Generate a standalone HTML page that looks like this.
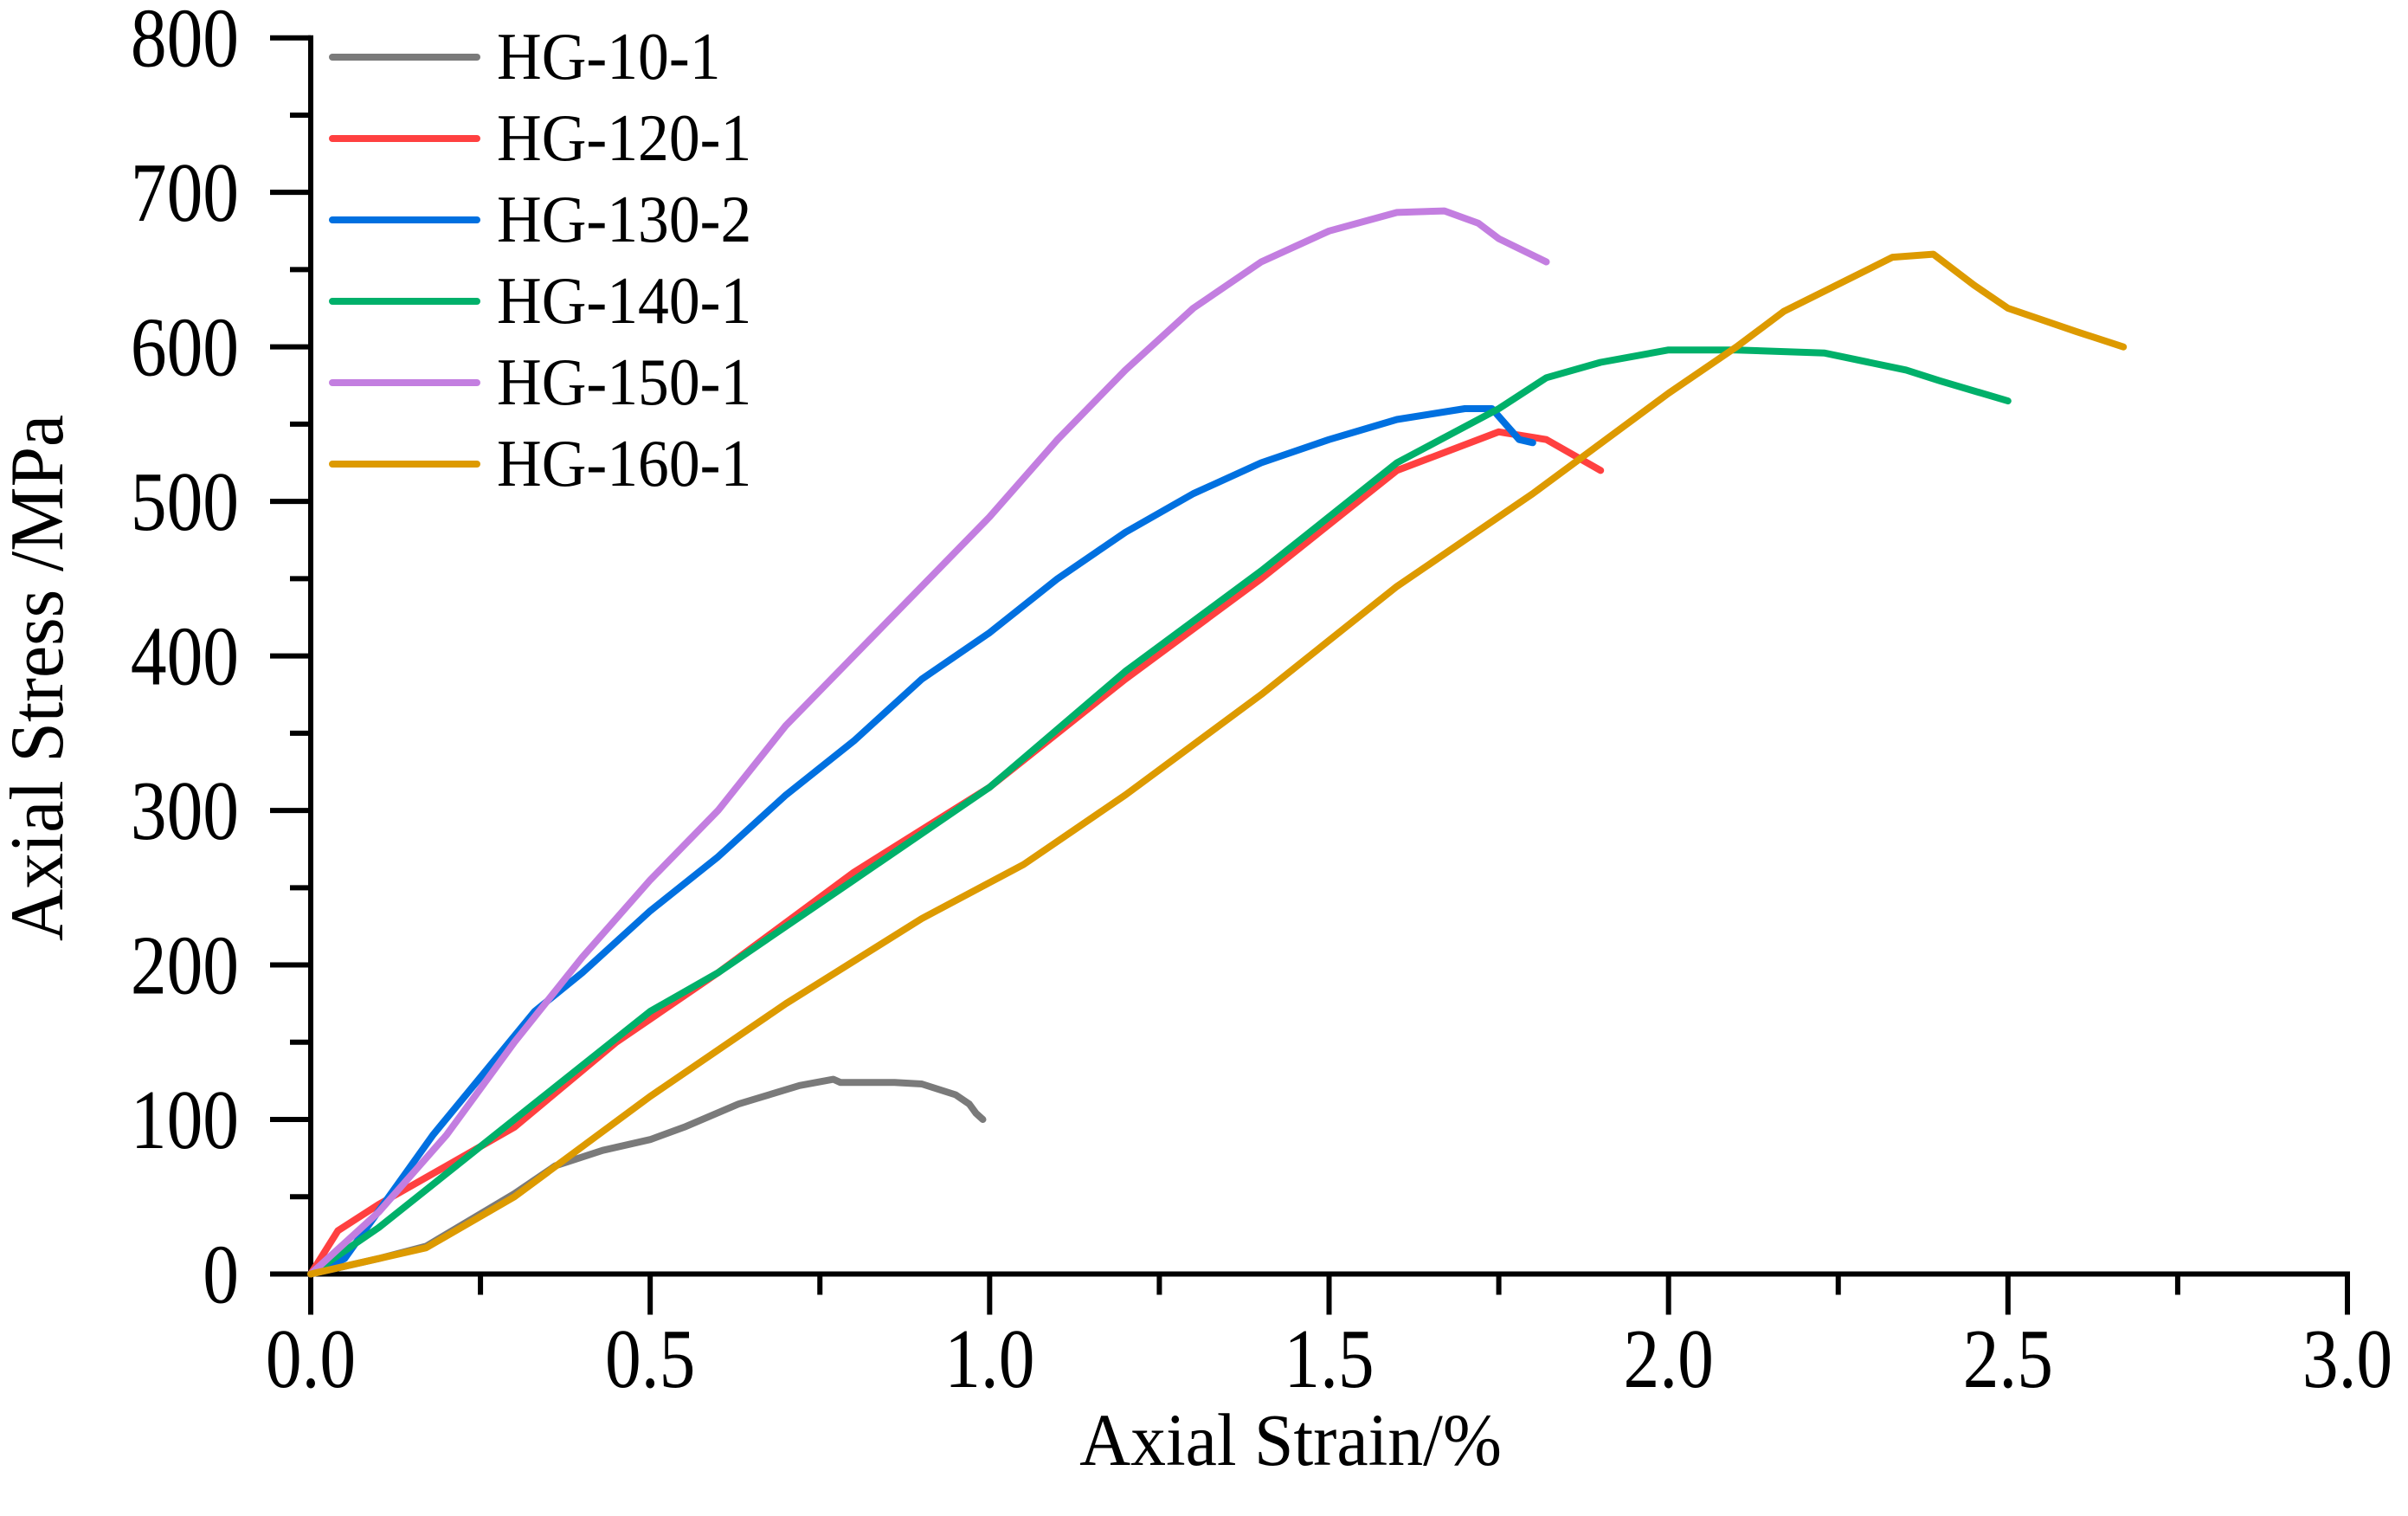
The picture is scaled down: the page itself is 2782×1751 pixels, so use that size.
<!DOCTYPE html>
<html><head><meta charset="utf-8"><style>
html,body{margin:0;padding:0;background:#fff;}
svg{display:block;font-family:"Liberation Serif",serif;}
</style></head><body>
<svg id="chart" width="2782" height="1751" viewBox="0 0 2782 1751" xmlns="http://www.w3.org/2000/svg">
<g id="axes"></g>
<g id="series"></g>
<g id="legend"></g>
<text transform="translate(1491,1692) scale(0.95,1)" font-size="86" text-anchor="middle">Axial Strain/%</text>
<text transform="translate(72,783) rotate(-90) scale(0.95,1)" font-size="88" text-anchor="middle">Axial Stress /MPa</text>
</svg>
<script>
const xTicks = [0, 0.5, 1.0, 1.5, 2.0, 2.5, 3.0];
const xTickLabels = ["0.0","0.5","1.0","1.5","2.0","2.5","3.0"];
const yTicks = [0,100,200,300,400,500,600,700,800];
const yTickLabels = ["0","100","200","300","400","500","600","700","800"];
const seriesNames = ["HG-10-1","HG-120-1","HG-130-2","HG-140-1","HG-150-1","HG-160-1"];
const seriesColors = ["#7a7a7a","#ff4040","#0070e0","#00b06a","#c37ee0","#dd9a00"];
const hg10x = [0,0.1,0.17,0.3,0.36,0.43,0.5,0.55,0.63,0.72,0.77,0.78,0.86,0.9,0.95,0.97,0.98,0.99];
const hg10y = [0,10,18,52,70,80,87,95,110,122,126,124,124,123,116,110,104,100];
const hg120x = [0,0.04,0.1,0.2,0.3,0.45,0.6,0.8,1.0,1.2,1.4,1.6,1.75,1.82,1.9];
const hg120y = [0,28,45,70,95,150,195,260,315,385,450,520,545,540,520];
const hg130x = [0,0.05,0.18,0.33,0.4,0.5,0.6,0.7,0.8,0.9,1.0,1.1,1.2,1.3,1.4,1.5,1.6,1.7,1.74,1.76,1.78,1.8];
const hg130y = [0,10,90,170,195,235,270,310,345,385,415,450,480,505,525,540,553,560,560,550,540,538];
const hg140x = [0,0.1,0.3,0.5,0.6,0.8,1.0,1.2,1.4,1.6,1.75,1.82,1.9,2.0,2.1,2.23,2.35,2.4,2.5];
const hg140y = [0,30,100,170,195,255,315,390,455,525,560,580,590,598,598,596,585,578,565];
const hg150x = [0,0.1,0.2,0.3,0.4,0.5,0.6,0.7,0.8,0.9,1.0,1.1,1.2,1.3,1.4,1.5,1.6,1.67,1.72,1.75,1.82];
const hg150y = [0,40,90,150,205,255,300,355,400,445,490,540,585,625,655,675,687,688,680,670,655];
const hg160x = [0,0.1,0.17,0.3,0.5,0.7,0.9,1.05,1.2,1.4,1.6,1.8,2.0,2.1,2.17,2.33,2.39,2.45,2.5,2.6,2.67];
const hg160y = [0,10,17,50,115,175,230,265,310,375,445,505,570,600,623,658,660,640,625,610,600];

const NS = "http://www.w3.org/2000/svg";
const X0 = 359, X1 = 2712, Y0 = 1471.5, Y1 = 43.7;
function sx(v){ return X0 + (v - 0) / 3 * (X1 - X0); }
function sy(v){ return Y0 - v / 800 * (Y0 - Y1); }
function mk(tag, attrs, parent){ const e = document.createElementNS(NS, tag); for (const k in attrs) e.setAttribute(k, attrs[k]); parent.appendChild(e); return e; }

const axes = document.getElementById('axes');
let el = mk('line', {x1:X0, y1:Y1-3, x2:X0, y2:Y0+47, stroke:'#000','stroke-width':6}, axes);


el = mk('line', {x1:X0-47, y1:Y0, x2:X1+3, y2:Y0, stroke:'#000','stroke-width':6}, axes);


xTicks.forEach((v,i)=>{
  const t = mk('line', {x1:sx(v), y1:Y0, x2:sx(v), y2:Y0+47, stroke:'#000','stroke-width':6}, axes);
  
  
  if (i < xTicks.length-1) {
    const m = mk('line', {x1:sx(v+0.25), y1:Y0, x2:sx(v+0.25), y2:Y0+24, stroke:'#000','stroke-width':6}, axes);
    
    
  }
  const lb = mk('text', {transform:'translate(' + sx(v) + ',1602) scale(0.86,1)', 'font-size':97, 'text-anchor':'middle'}, axes);
  lb.textContent = xTickLabels[i];
  
  
});
yTicks.forEach((v,i)=>{
  const t = mk('line', {x1:X0-47, y1:sy(v), x2:X0, y2:sy(v), stroke:'#000','stroke-width':6}, axes);
  
  
  if (i < yTicks.length-1) {
    const m = mk('line', {x1:X0-24, y1:sy(v+50), x2:X0, y2:sy(v+50), stroke:'#000','stroke-width':6}, axes);
    
    
  }
  const lb = mk('text', {transform:'translate(276,' + (sy(v)+33) + ') scale(0.86,1)', 'font-size':97, 'text-anchor':'end'}, axes);
  lb.textContent = yTickLabels[i];
  
  
});

const xs = [hg10x,hg120x,hg130x,hg140x,hg150x,hg160x];
const ys = [hg10y,hg120y,hg130y,hg140y,hg150y,hg160y];
const sg = document.getElementById('series');
const lg = document.getElementById('legend');
xs.forEach((xa,i)=>{
  const pts = xa.map((x,j)=>sx(x).toFixed(1)+','+sy(ys[i][j]).toFixed(1)).join(' ');
  const p = mk('polyline', {points:pts, fill:'none', stroke:seriesColors[i], 'stroke-width':8, 'stroke-linejoin':'round', 'stroke-linecap':'round'}, sg);
  
  
  const ly = 66 + i*94;
  const ll = mk('line', {x1:384, y1:ly, x2:551, y2:ly, stroke:seriesColors[i], 'stroke-width':8, 'stroke-linecap':'round'}, lg);
  
  
  const lt = mk('text', {transform:'translate(574,' + (ly+25) + ') scale(0.93,1)', 'font-size':77}, lg);
  lt.textContent = seriesNames[i];
  
  
});
</script>
</body></html>
